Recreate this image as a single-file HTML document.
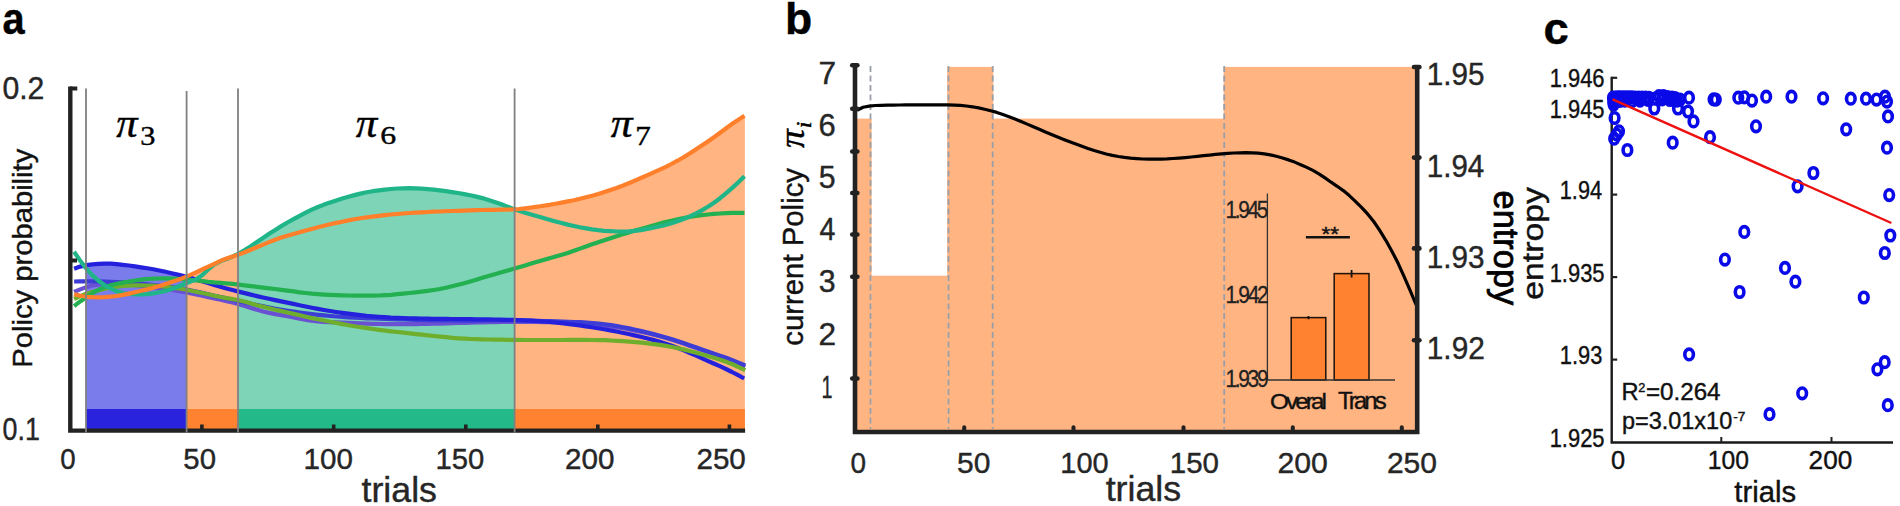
<!DOCTYPE html>
<html lang="en">
<head>
<meta charset="utf-8">
<title>Policy probability, current policy and entropy across trials</title>
<style>
html,body{margin:0;padding:0;background:#fff;}
body{width:1900px;height:506px;overflow:hidden;font-family:"Liberation Sans",Arial,sans-serif;}
svg{display:block;}
text{white-space:pre;}
</style>
</head>
<body>
<svg width="1900" height="506" viewBox="0 0 1900 506">
<rect width="1900" height="506" fill="#fff"/>
<g id="panel-a">
<path d="M86.0,265.2 L90.2,264.6 L94.4,264.2 L98.6,263.8 L102.8,263.7 L107.0,263.7 L111.2,263.8 L115.3,264.1 L119.5,264.4 L123.7,264.9 L127.9,265.4 L132.1,266.0 L136.3,266.6 L140.5,267.2 L144.7,267.9 L148.9,268.6 L153.1,269.3 L157.3,270.1 L161.4,271.0 L165.6,271.9 L169.8,272.8 L174.0,273.8 L178.2,274.7 L182.4,275.7 L186.6,276.8 L186.6,429.5 L86.0,429.5 Z" fill="#7b7ceb"/>
<path d="M186.6,276.4 L191.3,274.4 L195.9,272.4 L200.6,270.2 L205.3,268.0 L210.0,265.9 L214.6,263.6 L219.3,261.4 L224.0,259.5 L228.7,257.7 L233.3,256.2 L238.0,254.7 L238.0,429.5 L186.6,429.5 Z" fill="#ffb482"/>
<path d="M238.0,253.9 L242.1,251.7 L246.1,249.2 L250.2,246.6 L254.3,243.8 L258.3,241.1 L262.4,238.3 L266.5,235.6 L270.5,232.9 L274.6,230.3 L278.7,227.8 L282.7,225.3 L286.8,222.9 L290.9,220.6 L294.9,218.3 L299.0,216.1 L303.1,214.0 L307.1,212.0 L311.2,210.0 L315.3,208.2 L319.4,206.4 L323.4,204.8 L327.5,203.3 L331.6,201.9 L335.6,200.6 L339.7,199.3 L343.8,198.1 L347.8,196.9 L351.9,195.8 L356.0,194.7 L360.0,193.8 L364.1,192.9 L368.2,192.1 L372.2,191.3 L376.3,190.7 L380.4,190.1 L384.4,189.6 L388.5,189.2 L392.6,188.9 L396.6,188.6 L400.7,188.4 L404.8,188.3 L408.8,188.2 L412.9,188.2 L417.0,188.4 L421.0,188.6 L425.1,188.9 L429.2,189.2 L433.2,189.6 L437.3,190.1 L441.4,190.6 L445.5,191.2 L449.5,191.7 L453.6,192.3 L457.7,193.0 L461.7,193.6 L465.8,194.4 L469.9,195.2 L473.9,196.1 L478.0,197.0 L482.1,198.0 L486.1,199.2 L490.2,200.4 L494.3,201.8 L498.3,203.3 L502.4,204.8 L506.5,206.3 L510.5,207.8 L514.6,209.3 L514.6,429.5 L238.0,429.5 Z" fill="#7dd4b6"/>
<path d="M514.6,209.3 L518.7,209.0 L522.8,208.6 L526.9,208.1 L531.1,207.6 L535.2,207.0 L539.3,206.4 L543.4,205.7 L547.5,205.1 L551.6,204.4 L555.7,203.7 L559.8,202.9 L564.0,202.2 L568.1,201.4 L572.2,200.5 L576.3,199.6 L580.4,198.7 L584.5,197.7 L588.6,196.7 L592.7,195.6 L596.9,194.4 L601.0,193.2 L605.1,191.9 L609.2,190.5 L613.3,189.1 L617.4,187.6 L621.5,186.1 L625.6,184.4 L629.8,182.8 L633.9,181.0 L638.0,179.3 L642.1,177.5 L646.2,175.7 L650.3,173.9 L654.4,172.0 L658.5,170.2 L662.6,168.3 L666.8,166.3 L670.9,164.3 L675.0,162.1 L679.1,159.8 L683.2,157.4 L687.3,154.8 L691.4,152.3 L695.5,149.7 L699.7,147.0 L703.8,144.3 L707.9,141.5 L712.0,138.6 L716.1,135.7 L720.2,132.7 L724.3,129.6 L728.4,126.6 L732.6,123.7 L736.7,120.9 L740.8,118.2 L744.9,115.8 L744.9,429.5 L514.6,429.5 Z" fill="#ffb482"/>
<rect x="86.0" y="409.0" width="100.6" height="20.5" fill="#2923de"/>
<rect x="186.6" y="409.0" width="51.4" height="20.5" fill="#ff8230"/>
<rect x="238.0" y="409.0" width="276.6" height="20.5" fill="#24b989"/>
<rect x="514.6" y="409.0" width="230.3" height="20.5" fill="#ff8230"/>
<path d="M74.1,292.0 L80.2,289.4 L86.3,287.1 L92.4,285.4 L98.5,284.4 L104.6,283.8 L110.7,283.7 L116.8,283.8 L122.9,284.2 L129.0,284.6 L135.1,285.1 L141.2,285.8 L147.3,286.5 L153.4,287.4 L159.5,288.2 L165.6,289.1 L171.7,290.0 L177.8,291.0 L183.9,292.0 L190.0,293.2 L196.1,294.5 L202.2,295.8 L208.3,297.2 L214.4,298.5 L220.5,299.8 L226.6,301.1 L232.7,302.5 L238.8,304.2 L244.9,306.0 L251.0,308.0 L257.1,309.8 L263.2,311.5 L269.3,312.9 L275.4,314.1 L281.5,315.1 L287.6,316.2 L293.7,317.4 L299.8,318.7 L305.9,319.8 L312.0,320.7 L318.1,321.4 L324.2,321.8 L330.3,322.2 L336.4,322.4 L342.5,322.7 L348.6,322.9 L354.7,323.1 L360.8,323.4 L366.9,323.6 L373.0,323.8 L379.1,323.9 L385.2,324.1 L391.3,324.1 L397.4,324.2 L403.5,324.2 L409.6,324.1 L415.8,324.1 L421.9,324.0 L428.0,323.8 L434.1,323.7 L440.2,323.6 L446.3,323.4 L452.4,323.2 L458.5,323.0 L464.6,322.9 L470.7,322.7 L476.8,322.5 L482.9,322.4 L489.0,322.2 L495.1,322.1 L501.2,321.9 L507.3,321.9 L513.4,321.8 L519.5,321.8 L525.6,321.8 L531.7,321.9 L537.8,321.9 L543.9,322.1 L550.0,322.2 L556.1,322.4 L562.2,322.6 L568.3,322.8 L574.4,323.1 L580.5,323.4 L586.6,323.8 L592.7,324.3 L598.8,324.9 L604.9,325.6 L611.0,326.4 L617.1,327.3 L623.2,328.3 L629.3,329.4 L635.4,330.6 L641.5,331.9 L647.6,333.3 L653.7,334.8 L659.8,336.3 L665.9,338.0 L672.0,339.8 L678.1,341.7 L684.2,343.7 L690.3,345.9 L696.4,348.1 L702.5,350.3 L708.6,352.5 L714.7,354.6 L720.8,356.8 L726.9,359.1 L733.0,361.5 L739.1,364.1 L745.2,366.8" fill="none" stroke="#6a50d2" stroke-width="4.2" stroke-linejoin="round"/>
<path d="M74.1,281.5 L80.2,281.4 L86.3,281.3 L92.4,281.3 L98.5,281.4 L104.6,281.5 L110.7,281.8 L116.8,282.0 L122.9,282.4 L129.0,282.8 L135.1,283.2 L141.2,283.8 L147.3,284.4 L153.4,285.0 L159.5,285.7 L165.6,286.4 L171.7,287.2 L177.8,288.0 L183.9,289.0 L190.0,290.2 L196.1,291.5 L202.2,292.9 L208.3,294.3 L214.4,295.7 L220.5,297.1 L226.6,298.4 L232.7,299.8 L238.8,301.1 L244.9,302.4 L251.0,303.8 L257.1,305.1 L263.2,306.3 L269.3,307.5 L275.4,308.7 L281.5,309.8 L287.6,310.8 L293.7,311.7 L299.8,312.6 L305.9,313.4 L312.0,314.1 L318.1,314.8 L324.2,315.4 L330.3,316.0 L336.4,316.5 L342.5,317.0 L348.6,317.4 L354.7,317.7 L360.8,318.0 L366.9,318.3 L373.0,318.5 L379.1,318.7 L385.2,318.9 L391.3,319.1 L397.4,319.3 L403.5,319.5 L409.6,319.7 L415.8,319.8 L421.9,320.0 L428.0,320.2 L434.1,320.3 L440.2,320.4 L446.3,320.5 L452.4,320.5 L458.5,320.6 L464.6,320.6 L470.7,320.6 L476.8,320.6 L482.9,320.5 L489.0,320.5 L495.1,320.4 L501.2,320.4 L507.3,320.4 L513.4,320.4 L519.5,320.5 L525.6,320.6 L531.7,320.7 L537.8,320.8 L543.9,321.0 L550.0,321.2 L556.1,321.4 L562.2,321.6 L568.3,321.8 L574.4,322.0 L580.5,322.2 L586.6,322.6 L592.7,323.0 L598.8,323.6 L604.9,324.3 L611.0,325.1 L617.1,326.1 L623.2,327.2 L629.3,328.4 L635.4,329.7 L641.5,331.1 L647.6,332.5 L653.7,334.1 L659.8,335.7 L665.9,337.4 L672.0,339.3 L678.1,341.2 L684.2,343.2 L690.3,345.4 L696.4,347.5 L702.5,349.7 L708.6,351.8 L714.7,353.9 L720.8,355.9 L726.9,358.1 L733.0,360.4 L739.1,362.9 L745.2,365.5" fill="none" stroke="#3d3dd6" stroke-width="4.2" stroke-linejoin="round"/>
<path d="M74.1,268.7 L80.2,266.6 L86.3,265.1 L92.4,264.3 L98.5,263.8 L104.6,263.6 L110.7,263.7 L116.7,264.1 L122.8,264.8 L128.9,265.5 L135.0,266.4 L141.1,267.3 L147.2,268.3 L153.3,269.3 L159.4,270.5 L165.5,271.8 L171.6,273.2 L177.7,274.6 L183.8,276.0 L189.8,277.6 L195.9,279.4 L202.0,281.2 L208.1,283.1 L214.2,284.9 L220.3,286.7 L226.4,288.4 L232.5,290.0 L238.6,291.6 L244.7,293.1 L250.8,294.6 L256.9,296.1 L262.9,297.5 L269.0,298.8 L275.1,300.1 L281.2,301.4 L287.3,302.6 L293.4,303.9 L299.5,305.2 L305.6,306.5 L311.7,307.7 L317.8,308.9 L323.9,310.0 L330.0,311.0 L336.0,312.0 L342.1,312.9 L348.2,313.7 L354.3,314.4 L360.4,315.1 L366.5,315.8 L372.6,316.3 L378.7,316.8 L384.8,317.2 L390.9,317.6 L397.0,317.8 L403.1,318.1 L409.1,318.3 L415.2,318.4 L421.3,318.5 L427.4,318.7 L433.5,318.8 L439.6,318.9 L445.7,318.9 L451.8,319.0 L457.9,319.1 L464.0,319.2 L470.1,319.2 L476.2,319.3 L482.3,319.4 L488.3,319.4 L494.4,319.5 L500.5,319.6 L506.6,319.8 L512.7,319.9 L518.8,320.2 L524.9,320.4 L531.0,320.7 L537.1,321.1 L543.2,321.5 L549.3,322.0 L555.4,322.5 L561.4,323.2 L567.5,323.8 L573.6,324.6 L579.7,325.4 L585.8,326.3 L591.9,327.3 L598.0,328.3 L604.1,329.3 L610.2,330.4 L616.3,331.5 L622.4,332.7 L628.5,334.0 L634.5,335.4 L640.6,336.8 L646.7,338.3 L652.8,339.9 L658.9,341.6 L665.0,343.5 L671.1,345.5 L677.2,347.7 L683.3,350.1 L689.4,352.7 L695.5,355.3 L701.6,358.1 L707.6,360.8 L713.7,363.5 L719.8,366.2 L725.9,369.0 L732.0,372.0 L738.1,375.2 L744.2,378.5" fill="none" stroke="#2420dc" stroke-width="4.2" stroke-linejoin="round"/>
<path d="M74.1,299.0 L80.2,296.2 L86.3,293.8 L92.4,292.1 L98.5,290.4 L104.6,288.8 L110.7,287.6 L116.8,286.6 L122.9,286.0 L129.0,285.6 L135.1,285.4 L141.2,285.4 L147.3,285.5 L153.4,285.7 L159.5,286.1 L165.6,286.7 L171.7,287.5 L177.8,288.3 L183.9,289.3 L190.0,290.5 L196.1,291.7 L202.2,293.0 L208.3,294.3 L214.4,295.7 L220.5,297.0 L226.6,298.1 L232.7,299.1 L238.8,300.3 L244.9,301.8 L251.0,303.4 L257.1,305.2 L263.2,306.8 L269.3,308.3 L275.4,309.8 L281.5,311.1 L287.6,312.5 L293.7,313.9 L299.8,315.3 L305.9,316.7 L312.0,318.1 L318.1,319.3 L324.2,320.5 L330.3,321.7 L336.4,322.9 L342.5,324.1 L348.6,325.2 L354.7,326.3 L360.8,327.3 L366.9,328.2 L373.0,329.0 L379.1,329.8 L385.2,330.6 L391.3,331.3 L397.4,332.0 L403.5,332.7 L409.6,333.4 L415.8,334.1 L421.9,334.7 L428.0,335.4 L434.1,336.0 L440.2,336.6 L446.3,337.2 L452.4,337.8 L458.5,338.3 L464.6,338.7 L470.7,339.0 L476.8,339.2 L482.9,339.4 L489.0,339.5 L495.1,339.7 L501.2,339.7 L507.3,339.8 L513.4,339.9 L519.5,339.9 L525.6,340.0 L531.7,340.0 L537.8,340.0 L543.9,340.0 L550.0,340.0 L556.1,340.0 L562.2,340.0 L568.3,339.9 L574.4,339.9 L580.5,339.9 L586.6,339.9 L592.7,340.0 L598.8,340.1 L604.9,340.2 L611.0,340.5 L617.1,340.8 L623.2,341.2 L629.3,341.6 L635.4,342.1 L641.5,342.7 L647.6,343.3 L653.7,344.1 L659.8,344.9 L665.9,345.9 L672.0,347.0 L678.1,348.2 L684.2,349.6 L690.3,351.2 L696.4,352.8 L702.5,354.5 L708.6,356.3 L714.7,358.1 L720.8,360.0 L726.9,362.1 L733.0,364.5 L739.1,367.3 L745.2,370.1" fill="none" stroke="#6fae2c" stroke-width="4.2" stroke-linejoin="round"/>
<path d="M74.1,306.1 L80.2,301.4 L86.3,297.3 L92.4,293.2 L98.5,289.8 L104.6,287.2 L110.7,285.3 L116.8,283.8 L122.9,282.6 L129.0,281.5 L135.0,280.5 L141.1,279.7 L147.2,279.0 L153.3,278.7 L159.4,278.5 L165.5,278.4 L171.6,278.6 L177.7,278.9 L183.8,279.4 L189.9,279.9 L196.0,280.4 L202.1,281.0 L208.2,281.8 L214.3,282.4 L220.4,282.8 L226.5,283.3 L232.6,283.9 L238.7,284.6 L244.7,285.4 L250.8,286.1 L256.9,286.8 L263.0,287.6 L269.1,288.3 L275.2,289.0 L281.3,289.8 L287.4,290.6 L293.5,291.4 L299.6,292.3 L305.7,293.0 L311.8,293.7 L317.9,294.2 L324.0,294.6 L330.1,294.9 L336.2,295.1 L342.3,295.3 L348.4,295.5 L354.4,295.6 L360.5,295.6 L366.6,295.7 L372.7,295.6 L378.8,295.5 L384.9,295.2 L391.0,294.8 L397.1,294.2 L403.2,293.6 L409.3,293.0 L415.4,292.4 L421.5,291.7 L427.6,290.9 L433.7,290.0 L439.8,289.0 L445.9,287.7 L452.0,286.3 L458.1,284.8 L464.2,283.2 L470.2,281.5 L476.3,279.7 L482.4,277.8 L488.5,276.0 L494.6,274.2 L500.7,272.5 L506.8,270.8 L512.9,269.1 L519.0,267.3 L525.1,265.5 L531.2,263.6 L537.3,261.8 L543.4,260.0 L549.5,258.3 L555.6,256.6 L561.7,254.8 L567.8,252.9 L573.9,250.8 L579.9,248.6 L586.0,246.4 L592.1,244.3 L598.2,242.2 L604.3,240.2 L610.4,238.2 L616.5,236.2 L622.6,234.3 L628.7,232.4 L634.8,230.6 L640.9,228.9 L647.0,227.2 L653.1,225.5 L659.2,223.8 L665.3,222.1 L671.4,220.7 L677.5,219.3 L683.6,218.1 L689.6,217.0 L695.7,216.0 L701.8,215.1 L707.9,214.5 L714.0,213.9 L720.1,213.5 L726.2,213.1 L732.3,212.9 L738.4,212.8 L744.5,212.9" fill="none" stroke="#23b050" stroke-width="4.2" stroke-linejoin="round"/>
<path d="M74.1,251.8 L80.2,260.8 L86.3,268.6 L92.4,275.4 L98.5,280.7 L104.6,285.3 L110.7,288.7 L116.8,291.4 L122.9,293.0 L129.0,293.9 L135.0,294.4 L141.1,294.5 L147.2,294.1 L153.3,293.4 L159.4,292.3 L165.5,290.9 L171.6,289.0 L177.7,286.8 L183.8,284.2 L189.9,281.8 L196.0,279.4 L202.1,275.3 L208.2,269.5 L214.3,264.4 L220.4,261.3 L226.5,259.0 L232.6,256.5 L238.7,253.6 L244.7,250.1 L250.8,246.2 L256.9,242.0 L263.0,237.9 L269.1,233.8 L275.2,229.9 L281.3,226.1 L287.4,222.5 L293.5,219.1 L299.6,215.8 L305.7,212.7 L311.8,209.7 L317.9,207.0 L324.0,204.6 L330.1,202.4 L336.2,200.4 L342.3,198.5 L348.4,196.7 L354.4,195.1 L360.5,193.6 L366.6,192.3 L372.7,191.2 L378.8,190.3 L384.9,189.6 L391.0,189.0 L397.1,188.5 L403.2,188.3 L409.3,188.2 L415.4,188.3 L421.5,188.6 L427.6,189.1 L433.7,189.7 L439.8,190.4 L445.9,191.2 L452.0,192.1 L458.1,193.0 L464.2,194.1 L470.2,195.2 L476.3,196.6 L482.4,198.1 L488.5,199.9 L494.6,201.9 L500.7,204.1 L506.8,206.4 L512.9,208.7 L519.0,210.8 L525.1,212.7 L531.2,214.4 L537.3,216.2 L543.4,217.9 L549.5,219.7 L555.6,221.4 L561.7,223.0 L567.8,224.6 L573.9,226.0 L579.9,227.3 L586.0,228.4 L592.1,229.4 L598.2,230.2 L604.3,230.8 L610.4,231.2 L616.5,231.5 L622.6,231.6 L628.7,231.4 L634.8,230.9 L640.9,230.1 L647.0,229.0 L653.1,227.8 L659.2,226.5 L665.3,225.0 L671.4,223.3 L677.5,221.3 L683.6,219.0 L689.6,216.5 L695.7,213.6 L701.8,210.4 L707.9,206.8 L714.0,202.7 L720.1,198.2 L726.2,193.2 L732.3,187.9 L738.4,182.2 L744.5,176.3" fill="none" stroke="#1fb588" stroke-width="4.2" stroke-linejoin="round"/>
<path d="M74.1,294.1 L80.2,295.7 L86.3,296.8 L92.4,297.2 L98.5,297.4 L104.6,297.2 L110.7,296.7 L116.8,296.0 L122.9,294.9 L129.0,293.6 L135.0,292.2 L141.1,290.8 L147.2,289.4 L153.3,287.8 L159.4,286.0 L165.5,284.1 L171.6,282.1 L177.7,280.0 L183.8,277.6 L189.9,275.1 L196.0,272.3 L202.1,269.5 L208.2,266.7 L214.3,263.8 L220.4,260.9 L226.5,258.5 L232.6,256.4 L238.7,254.5 L244.7,252.3 L250.8,249.8 L256.9,247.2 L263.0,244.6 L269.1,242.1 L275.2,239.7 L281.3,237.6 L287.4,235.7 L293.5,234.0 L299.6,232.3 L305.7,230.6 L311.8,228.9 L317.9,227.3 L324.0,225.7 L330.1,224.3 L336.2,222.9 L342.3,221.7 L348.4,220.4 L354.4,219.3 L360.5,218.3 L366.6,217.4 L372.7,216.6 L378.8,215.8 L384.9,215.2 L391.0,214.5 L397.1,214.0 L403.2,213.5 L409.3,213.0 L415.4,212.7 L421.5,212.3 L427.6,212.0 L433.7,211.7 L439.8,211.5 L445.9,211.2 L452.0,211.0 L458.1,210.8 L464.2,210.6 L470.2,210.4 L476.3,210.2 L482.4,210.0 L488.5,209.9 L494.6,209.8 L500.7,209.7 L506.8,209.6 L512.9,209.4 L519.0,209.0 L525.1,208.3 L531.2,207.5 L537.3,206.7 L543.4,205.7 L549.5,204.8 L555.6,203.7 L561.7,202.6 L567.8,201.4 L573.9,200.2 L579.9,198.8 L586.0,197.3 L592.1,195.7 L598.2,194.0 L604.3,192.1 L610.4,190.1 L616.5,188.0 L622.6,185.7 L628.7,183.2 L634.8,180.6 L640.9,178.0 L647.0,175.3 L653.1,172.6 L659.2,169.9 L665.3,167.1 L671.4,164.0 L677.5,160.7 L683.6,157.2 L689.6,153.4 L695.7,149.6 L701.8,145.6 L707.9,141.5 L714.0,137.2 L720.1,132.7 L726.2,128.2 L732.3,123.8 L738.4,119.7 L744.5,115.8" fill="none" stroke="#ff7f2a" stroke-width="4.2" stroke-linejoin="round"/>
<path d="M70.3,86.4 V430.6 H745.1" fill="none" stroke="#222" stroke-width="4.4"/>
<path d="M70,88.5 H77.3 M72,260.5 H77" fill="none" stroke="#222" stroke-width="4"/>
<line x1="201.9" y1="424.5" x2="201.9" y2="430" stroke="#222" stroke-width="3.6"/>
<line x1="333.7" y1="424.5" x2="333.7" y2="430" stroke="#222" stroke-width="3.6"/>
<line x1="465.8" y1="424.5" x2="465.8" y2="430" stroke="#222" stroke-width="3.6"/>
<line x1="597.8" y1="424.5" x2="597.8" y2="430" stroke="#222" stroke-width="3.6"/>
<line x1="729.4" y1="424.5" x2="729.4" y2="430" stroke="#222" stroke-width="3.6"/>
<line x1="86.0" y1="88.5" x2="86.0" y2="432.6" stroke="#808080" stroke-width="1.8"/>
<line x1="186.6" y1="91" x2="186.6" y2="432.6" stroke="#808080" stroke-width="1.8"/>
<line x1="238.0" y1="88.5" x2="238.0" y2="432.6" stroke="#808080" stroke-width="1.8"/>
<line x1="514.6" y1="88.5" x2="514.6" y2="432.6" stroke="#808080" stroke-width="1.8"/>
<text transform="translate(2.61,33.96) scale(0.9011,1)" font-size="44.18" font-family="Liberation Sans, Arial, sans-serif" font-weight="bold" fill="#000" stroke="#000" stroke-width="0.4">a</text>
<text transform="translate(2.39,99.49) scale(0.9846,1)" font-size="30.70" font-family="Liberation Sans, Arial, sans-serif" fill="#262626" stroke="#262626" stroke-width="0.4">0.2</text>
<text transform="translate(2.53,440.29) scale(0.8735,1)" font-size="30.70" font-family="Liberation Sans, Arial, sans-serif" fill="#262626" stroke="#262626" stroke-width="0.4">0.1</text>
<text transform="translate(31.76,367.63) rotate(-90) scale(1.0491,1)" font-size="27.81" font-family="Liberation Sans, Arial, sans-serif" fill="#111" stroke="#111" stroke-width="0.4">Policy probability</text>
<text transform="translate(60.19,469.41) scale(0.9550,1)" font-size="29.01" font-family="Liberation Sans, Arial, sans-serif" fill="#262626" stroke="#262626" stroke-width="0.4">0</text>
<text transform="translate(183.33,469.41) scale(1.0123,1)" font-size="29.01" font-family="Liberation Sans, Arial, sans-serif" fill="#262626" stroke="#262626" stroke-width="0.4">50</text>
<text transform="translate(303.58,469.41) scale(1.0196,1)" font-size="29.01" font-family="Liberation Sans, Arial, sans-serif" fill="#262626" stroke="#262626" stroke-width="0.4">100</text>
<text transform="translate(435.51,469.41) scale(1.0085,1)" font-size="29.01" font-family="Liberation Sans, Arial, sans-serif" fill="#262626" stroke="#262626" stroke-width="0.4">150</text>
<text transform="translate(565.02,469.41) scale(1.0209,1)" font-size="29.01" font-family="Liberation Sans, Arial, sans-serif" fill="#262626" stroke="#262626" stroke-width="0.4">200</text>
<text transform="translate(696.42,469.41) scale(1.0209,1)" font-size="29.01" font-family="Liberation Sans, Arial, sans-serif" fill="#262626" stroke="#262626" stroke-width="0.4">250</text>
<text transform="translate(361.46,501.65) scale(1.0272,1)" font-size="34.83" font-family="Liberation Sans, Arial, sans-serif" fill="#262626" stroke="#262626" stroke-width="0.4">trials</text>
<text transform="translate(116.19,136.99) scale(1.0350,1)" font-size="41.06" font-family="Liberation Serif, serif" font-style="italic" fill="#000" stroke="#000" stroke-width="0.4">π</text>
<text transform="translate(140.33,144.72) scale(1.0937,1)" font-size="27.76" font-family="Liberation Serif, serif" fill="#000" stroke="#000" stroke-width="0.4">3</text>
<text transform="translate(355.79,137.39) scale(1.0336,1)" font-size="41.49" font-family="Liberation Serif, serif" font-style="italic" fill="#000" stroke="#000" stroke-width="0.4">π</text>
<text transform="translate(380.23,144.34) scale(1.2268,1)" font-size="25.97" font-family="Liberation Serif, serif" fill="#000" stroke="#000" stroke-width="0.4">6</text>
<text transform="translate(610.68,136.89) scale(1.0639,1)" font-size="40.85" font-family="Liberation Serif, serif" font-style="italic" fill="#000" stroke="#000" stroke-width="0.4">π</text>
<text transform="translate(635.18,145.00) scale(1.1711,1)" font-size="26.56" font-family="Liberation Serif, serif" fill="#000" stroke="#000" stroke-width="0.4">7</text>
</g>
<g id="panel-b">
<rect x="855.0" y="118.6" width="16.6" height="313.4" fill="#ffb482"/>
<rect x="871.3" y="275.7" width="76.2" height="156.3" fill="#ffb482"/>
<rect x="947.2" y="66.9" width="46.1" height="365.1" fill="#ffb482"/>
<rect x="993.0" y="118.6" width="230.9" height="313.4" fill="#ffb482"/>
<rect x="1223.6" y="66.9" width="193.4" height="365.1" fill="#ffb482"/>
<line x1="870.5" y1="66" x2="870.5" y2="429" stroke="#9a9ea6" stroke-width="1.8" stroke-dasharray="6,3.5"/>
<line x1="948.5" y1="66" x2="948.5" y2="429" stroke="#9a9ea6" stroke-width="1.8" stroke-dasharray="6,3.5"/>
<line x1="992.7" y1="66" x2="992.7" y2="429" stroke="#9a9ea6" stroke-width="1.8" stroke-dasharray="6,3.5"/>
<line x1="1224.2" y1="66" x2="1224.2" y2="429" stroke="#9a9ea6" stroke-width="1.8" stroke-dasharray="6,3.5"/>
<rect x="1291.2" y="317.6" width="34.6" height="62.4" fill="#ff8230" stroke="#1c130a" stroke-width="1.5"/>
<rect x="1334.2" y="273.6" width="34.8" height="106.4" fill="#ff8230" stroke="#1c130a" stroke-width="1.5"/>
<path d="M1267.4,193.5 V380 H1395" fill="none" stroke="#333" stroke-width="1.3"/>
<path d="M1308.5,316 V319.2 M1351.6,270 V277.4" stroke="#111" stroke-width="1.8" fill="none"/>
<line x1="1305.9" y1="237.2" x2="1349.9" y2="237.2" stroke="#111" stroke-width="2.6"/>
<text transform="translate(1321.56,240.60) scale(1.1267,1)" font-size="20.00" font-family="Liberation Sans, Arial, sans-serif" fill="#111" stroke="#111" stroke-width="0.4">**</text>
<text transform="translate(1225.43,217.57) scale(0.8928,1)" font-size="23.38" font-family="Liberation Sans, Arial, sans-serif" fill="#222" letter-spacing="-2.57" stroke="#222" stroke-width="0.3">1.945</text>
<text transform="translate(1225.43,303.17) scale(0.8974,1)" font-size="23.38" font-family="Liberation Sans, Arial, sans-serif" fill="#222" letter-spacing="-2.57" stroke="#222" stroke-width="0.3">1.942</text>
<text transform="translate(1225.43,387.36) scale(0.8845,1)" font-size="23.66" font-family="Liberation Sans, Arial, sans-serif" fill="#222" letter-spacing="-2.60" stroke="#222" stroke-width="0.3">1.939</text>
<text transform="translate(1270.11,408.77) scale(1.0737,1)" font-size="22.59" font-family="Liberation Sans, Arial, sans-serif" fill="#111" letter-spacing="-2.71" stroke="#111" stroke-width="0.4">Overal</text>
<text transform="translate(1338.02,408.76) scale(1.0083,1)" font-size="23.71" font-family="Liberation Sans, Arial, sans-serif" fill="#111" letter-spacing="-2.85" stroke="#111" stroke-width="0.4">Trans</text>
<path d="M857.0,110.2 L863.1,107.2 L869.2,106.1 L875.2,105.5 L881.3,105.3 L887.4,105.2 L893.5,105.1 L899.5,105.0 L905.6,104.9 L911.7,104.9 L917.8,104.8 L923.9,104.8 L929.9,104.8 L936.0,104.8 L942.1,104.8 L948.2,104.9 L954.3,105.1 L960.3,105.4 L966.4,106.0 L972.5,106.8 L978.6,107.9 L984.6,109.2 L990.7,110.7 L996.8,112.4 L1002.9,114.5 L1009.0,116.7 L1015.0,119.0 L1021.1,121.5 L1027.2,124.1 L1033.3,126.7 L1039.3,129.3 L1045.4,132.0 L1051.5,134.5 L1057.6,137.0 L1063.7,139.4 L1069.7,141.8 L1075.8,144.1 L1081.9,146.3 L1088.0,148.5 L1094.1,150.5 L1100.1,152.3 L1106.2,154.0 L1112.3,155.4 L1118.4,156.5 L1124.4,157.4 L1130.5,158.1 L1136.6,158.6 L1142.7,159.0 L1148.8,159.2 L1154.8,159.2 L1160.9,159.1 L1167.0,158.9 L1173.1,158.5 L1179.1,158.1 L1185.2,157.6 L1191.3,157.0 L1197.4,156.4 L1203.5,155.7 L1209.5,155.1 L1215.6,154.4 L1221.7,153.8 L1227.8,153.3 L1233.9,153.0 L1239.9,152.8 L1246.0,152.7 L1252.1,152.8 L1258.2,153.2 L1264.2,153.9 L1270.3,154.9 L1276.4,156.3 L1282.5,158.0 L1288.6,159.9 L1294.6,162.1 L1300.7,164.7 L1306.8,167.4 L1312.9,170.4 L1318.9,173.8 L1325.0,177.9 L1331.1,182.2 L1337.2,186.3 L1343.3,190.6 L1349.3,195.6 L1355.4,201.3 L1361.5,207.3 L1367.6,213.9 L1373.7,221.5 L1379.7,230.4 L1385.8,240.3 L1391.9,251.2 L1398.0,263.1 L1404.0,276.3 L1410.1,290.4 L1416.2,305.0" fill="none" stroke="#000" stroke-width="3.2" stroke-linejoin="round"/>
<path d="M855,65.5 V432 H1417.2 V66.5" fill="none" stroke="#222" stroke-width="4.6" stroke-linejoin="miter"/>
<line x1="852.2" y1="65.3" x2="857.4" y2="65.3" stroke="#222" stroke-width="4.5" stroke-linecap="round"/>
<line x1="852.2" y1="108.7" x2="857.4" y2="108.7" stroke="#222" stroke-width="4.5" stroke-linecap="round"/>
<line x1="852.2" y1="151.6" x2="857.4" y2="151.6" stroke="#222" stroke-width="4.5" stroke-linecap="round"/>
<line x1="852.2" y1="193.0" x2="857.4" y2="193.0" stroke="#222" stroke-width="4.5" stroke-linecap="round"/>
<line x1="852.2" y1="234.6" x2="857.4" y2="234.6" stroke="#222" stroke-width="4.5" stroke-linecap="round"/>
<line x1="852.2" y1="276.7" x2="857.4" y2="276.7" stroke="#222" stroke-width="4.5" stroke-linecap="round"/>
<line x1="852.2" y1="378.6" x2="857.4" y2="378.6" stroke="#222" stroke-width="4.5" stroke-linecap="round"/>
<line x1="1414" y1="67.0" x2="1419.4" y2="67.0" stroke="#222" stroke-width="4.6" stroke-linecap="round"/>
<line x1="1414" y1="157.6" x2="1419.4" y2="157.6" stroke="#222" stroke-width="4.6" stroke-linecap="round"/>
<line x1="1414" y1="248.4" x2="1419.4" y2="248.4" stroke="#222" stroke-width="4.6" stroke-linecap="round"/>
<line x1="1414" y1="340.2" x2="1419.4" y2="340.2" stroke="#222" stroke-width="4.6" stroke-linecap="round"/>
<line x1="964.2" y1="427.3" x2="964.2" y2="431" stroke="#222" stroke-width="4" stroke-linecap="round"/>
<line x1="1073.5" y1="427.3" x2="1073.5" y2="431" stroke="#222" stroke-width="4" stroke-linecap="round"/>
<line x1="1183.5" y1="427.3" x2="1183.5" y2="431" stroke="#222" stroke-width="4" stroke-linecap="round"/>
<line x1="1292.8" y1="427.3" x2="1292.8" y2="431" stroke="#222" stroke-width="4" stroke-linecap="round"/>
<line x1="1401.8" y1="427.3" x2="1401.8" y2="431" stroke="#222" stroke-width="4" stroke-linecap="round"/>
<text transform="translate(784.90,33.96) scale(1.0045,1)" font-size="44.35" font-family="Liberation Sans, Arial, sans-serif" font-weight="bold" fill="#000" stroke="#000" stroke-width="0.4">b</text>
<text transform="translate(818.42,83.80) scale(1.0017,1)" font-size="31.59" font-family="Liberation Sans, Arial, sans-serif" fill="#262626" stroke="#262626" stroke-width="0.4">7</text>
<text transform="translate(818.45,135.79) scale(1.0086,1)" font-size="30.70" font-family="Liberation Sans, Arial, sans-serif" fill="#262626" stroke="#262626" stroke-width="0.4">6</text>
<text transform="translate(818.79,187.59) scale(0.9734,1)" font-size="31.14" font-family="Liberation Sans, Arial, sans-serif" fill="#262626" stroke="#262626" stroke-width="0.4">5</text>
<text transform="translate(819.43,240.30) scale(0.9025,1)" font-size="31.59" font-family="Liberation Sans, Arial, sans-serif" fill="#262626" stroke="#262626" stroke-width="0.4">4</text>
<text transform="translate(818.79,292.39) scale(0.9873,1)" font-size="30.70" font-family="Liberation Sans, Arial, sans-serif" fill="#262626" stroke="#262626" stroke-width="0.4">3</text>
<text transform="translate(818.42,345.20) scale(1.0162,1)" font-size="31.14" font-family="Liberation Sans, Arial, sans-serif" fill="#262626" stroke="#262626" stroke-width="0.4">2</text>
<text transform="translate(821.52,397.60) scale(0.6258,1)" font-size="31.59" font-family="Liberation Sans, Arial, sans-serif" fill="#262626" stroke="#262626" stroke-width="0.4">1</text>
<text transform="translate(803.22,345.77) rotate(-90) scale(0.9980,1)" font-size="29.41" font-family="Liberation Sans, Arial, sans-serif" fill="#111" stroke="#111" stroke-width="0.4">current Policy</text>
<text transform="translate(803.95,147.89) rotate(-90) scale(1.0617,1)" font-size="35.32" font-family="Liberation Serif, serif" font-style="italic" fill="#000" stroke="#000" stroke-width="0.4">π</text>
<text transform="translate(811.40,128.41) rotate(-90) scale(1.1918,1)" font-size="21.52" font-family="Liberation Serif, serif" font-style="italic" fill="#000" stroke="#000" stroke-width="0.4">i</text>
<text transform="translate(850.48,472.51) scale(0.9484,1)" font-size="29.44" font-family="Liberation Sans, Arial, sans-serif" fill="#262626" stroke="#262626" stroke-width="0.4">0</text>
<text transform="translate(957.00,472.51) scale(1.0208,1)" font-size="29.44" font-family="Liberation Sans, Arial, sans-serif" fill="#262626" stroke="#262626" stroke-width="0.4">50</text>
<text transform="translate(1060.33,472.51) scale(0.9831,1)" font-size="29.44" font-family="Liberation Sans, Arial, sans-serif" fill="#262626" stroke="#262626" stroke-width="0.4">100</text>
<text transform="translate(1169.79,472.51) scale(1.0028,1)" font-size="29.44" font-family="Liberation Sans, Arial, sans-serif" fill="#262626" stroke="#262626" stroke-width="0.4">150</text>
<text transform="translate(1277.49,472.51) scale(1.0256,1)" font-size="29.44" font-family="Liberation Sans, Arial, sans-serif" fill="#262626" stroke="#262626" stroke-width="0.4">200</text>
<text transform="translate(1386.90,472.51) scale(1.0191,1)" font-size="29.44" font-family="Liberation Sans, Arial, sans-serif" fill="#262626" stroke="#262626" stroke-width="0.4">250</text>
<text transform="translate(1105.66,501.25) scale(1.0192,1)" font-size="35.10" font-family="Liberation Sans, Arial, sans-serif" fill="#262626" stroke="#262626" stroke-width="0.4">trials</text>
<text transform="translate(1426.77,84.69) scale(0.9576,1)" font-size="30.99" font-family="Liberation Sans, Arial, sans-serif" fill="#262626" stroke="#262626" stroke-width="0.4">1.95</text>
<text transform="translate(1426.79,176.69) scale(0.9524,1)" font-size="30.99" font-family="Liberation Sans, Arial, sans-serif" fill="#262626" stroke="#262626" stroke-width="0.4">1.94</text>
<text transform="translate(1426.77,267.89) scale(0.9576,1)" font-size="30.99" font-family="Liberation Sans, Arial, sans-serif" fill="#262626" stroke="#262626" stroke-width="0.4">1.93</text>
<text transform="translate(1426.76,358.69) scale(0.9629,1)" font-size="30.99" font-family="Liberation Sans, Arial, sans-serif" fill="#262626" stroke="#262626" stroke-width="0.4">1.92</text>
<text transform="translate(1494.25,190.52) rotate(90) scale(0.9824,1)" font-size="35.00" font-family="Liberation Sans, Arial, sans-serif" fill="#000" stroke="#000" stroke-width="0.8">entropy</text>
</g>
<g id="panel-c">
<path d="M1611.7,76.7 V442.5 H1893" fill="none" stroke="#1a1a1a" stroke-width="2.4"/>
<line x1="1611.5" y1="77.8" x2="1617.2" y2="77.8" stroke="#222" stroke-width="2.2"/>
<line x1="1611.5" y1="194.6" x2="1617.2" y2="194.6" stroke="#222" stroke-width="2.2"/>
<line x1="1611.5" y1="277.1" x2="1617.2" y2="277.1" stroke="#222" stroke-width="2.2"/>
<line x1="1611.5" y1="359.6" x2="1617.2" y2="359.6" stroke="#222" stroke-width="2.2"/>
<line x1="1721.3" y1="437" x2="1721.3" y2="442" stroke="#222" stroke-width="2"/>
<line x1="1831.5" y1="437" x2="1831.5" y2="442" stroke="#222" stroke-width="2"/>
<ellipse cx="1613" cy="97.7" rx="4.3" ry="5.3" fill="none" stroke="#0a0ae8" stroke-width="3.6"/>
<ellipse cx="1615" cy="97.5" rx="4.3" ry="5.3" fill="none" stroke="#0a0ae8" stroke-width="3.6"/>
<ellipse cx="1617.5" cy="97.4" rx="4.3" ry="5.3" fill="none" stroke="#0a0ae8" stroke-width="3.6"/>
<ellipse cx="1620" cy="97.4" rx="4.3" ry="5.3" fill="none" stroke="#0a0ae8" stroke-width="3.6"/>
<ellipse cx="1623" cy="97.3" rx="4.3" ry="5.3" fill="none" stroke="#0a0ae8" stroke-width="3.6"/>
<ellipse cx="1626" cy="97.3" rx="4.3" ry="5.3" fill="none" stroke="#0a0ae8" stroke-width="3.6"/>
<ellipse cx="1629" cy="97.4" rx="4.3" ry="5.3" fill="none" stroke="#0a0ae8" stroke-width="3.6"/>
<ellipse cx="1632" cy="97.4" rx="4.3" ry="5.3" fill="none" stroke="#0a0ae8" stroke-width="3.6"/>
<ellipse cx="1635" cy="97.5" rx="4.3" ry="5.3" fill="none" stroke="#0a0ae8" stroke-width="3.6"/>
<ellipse cx="1638.5" cy="97.5" rx="4.3" ry="5.3" fill="none" stroke="#0a0ae8" stroke-width="3.6"/>
<ellipse cx="1642" cy="97.5" rx="4.3" ry="5.3" fill="none" stroke="#0a0ae8" stroke-width="3.6"/>
<ellipse cx="1645.5" cy="97.6" rx="4.3" ry="5.3" fill="none" stroke="#0a0ae8" stroke-width="3.6"/>
<ellipse cx="1649" cy="97.8" rx="4.3" ry="5.3" fill="none" stroke="#0a0ae8" stroke-width="3.6"/>
<ellipse cx="1613.2" cy="101.5" rx="4.3" ry="5.3" fill="none" stroke="#0a0ae8" stroke-width="3.6"/>
<ellipse cx="1613.6" cy="104.5" rx="4.3" ry="5.3" fill="none" stroke="#0a0ae8" stroke-width="3.6"/>
<ellipse cx="1616" cy="100.5" rx="4.3" ry="5.3" fill="none" stroke="#0a0ae8" stroke-width="3.6"/>
<ellipse cx="1620" cy="100.8" rx="4.3" ry="5.3" fill="none" stroke="#0a0ae8" stroke-width="3.6"/>
<ellipse cx="1625" cy="100.6" rx="4.3" ry="5.3" fill="none" stroke="#0a0ae8" stroke-width="3.6"/>
<ellipse cx="1632" cy="101" rx="4.3" ry="5.3" fill="none" stroke="#0a0ae8" stroke-width="3.6"/>
<ellipse cx="1640" cy="100.6" rx="4.3" ry="5.3" fill="none" stroke="#0a0ae8" stroke-width="3.6"/>
<ellipse cx="1648" cy="99.8" rx="4.3" ry="5.3" fill="none" stroke="#0a0ae8" stroke-width="3.6"/>
<ellipse cx="1655" cy="98.6" rx="4.3" ry="5.3" fill="none" stroke="#0a0ae8" stroke-width="3.6"/>
<ellipse cx="1662" cy="99.4" rx="4.3" ry="5.3" fill="none" stroke="#0a0ae8" stroke-width="3.6"/>
<ellipse cx="1670" cy="100" rx="4.3" ry="5.3" fill="none" stroke="#0a0ae8" stroke-width="3.6"/>
<ellipse cx="1677" cy="100.6" rx="4.3" ry="5.3" fill="none" stroke="#0a0ae8" stroke-width="3.6"/>
<ellipse cx="1616.8" cy="134.6" rx="4.3" ry="5.3" fill="none" stroke="#0a0ae8" stroke-width="3.6"/>
<ellipse cx="1659" cy="96.2" rx="4.3" ry="5.3" fill="none" stroke="#0a0ae8" stroke-width="3.6"/>
<ellipse cx="1663.5" cy="96.2" rx="4.3" ry="5.3" fill="none" stroke="#0a0ae8" stroke-width="3.6"/>
<ellipse cx="1667.5" cy="97" rx="4.3" ry="5.3" fill="none" stroke="#0a0ae8" stroke-width="3.6"/>
<ellipse cx="1672" cy="97.6" rx="4.3" ry="5.3" fill="none" stroke="#0a0ae8" stroke-width="3.6"/>
<ellipse cx="1675" cy="98" rx="4.3" ry="5.3" fill="none" stroke="#0a0ae8" stroke-width="3.6"/>
<ellipse cx="1680" cy="99.5" rx="4.3" ry="5.3" fill="none" stroke="#0a0ae8" stroke-width="3.6"/>
<ellipse cx="1689" cy="97.7" rx="4.3" ry="5.3" fill="none" stroke="#0a0ae8" stroke-width="3.6"/>
<ellipse cx="1654.3" cy="108.5" rx="4.3" ry="5.3" fill="none" stroke="#0a0ae8" stroke-width="3.6"/>
<ellipse cx="1678" cy="108.5" rx="4.3" ry="5.3" fill="none" stroke="#0a0ae8" stroke-width="3.6"/>
<ellipse cx="1688" cy="111.5" rx="4.3" ry="5.3" fill="none" stroke="#0a0ae8" stroke-width="3.6"/>
<ellipse cx="1693.5" cy="121.4" rx="4.3" ry="5.3" fill="none" stroke="#0a0ae8" stroke-width="3.6"/>
<ellipse cx="1713.6" cy="99.4" rx="4.3" ry="5.3" fill="none" stroke="#0a0ae8" stroke-width="3.6"/>
<ellipse cx="1715.8" cy="99.6" rx="4.3" ry="5.3" fill="none" stroke="#0a0ae8" stroke-width="3.6"/>
<ellipse cx="1738.3" cy="97.7" rx="4.3" ry="5.3" fill="none" stroke="#0a0ae8" stroke-width="3.6"/>
<ellipse cx="1744.3" cy="97.3" rx="4.3" ry="5.3" fill="none" stroke="#0a0ae8" stroke-width="3.6"/>
<ellipse cx="1614.6" cy="118" rx="4.3" ry="5.3" fill="none" stroke="#0a0ae8" stroke-width="3.6"/>
<ellipse cx="1619" cy="131.3" rx="4.3" ry="5.3" fill="none" stroke="#0a0ae8" stroke-width="3.6"/>
<ellipse cx="1614.2" cy="138.7" rx="4.3" ry="5.3" fill="none" stroke="#0a0ae8" stroke-width="3.6"/>
<ellipse cx="1627.4" cy="150" rx="4.3" ry="5.3" fill="none" stroke="#0a0ae8" stroke-width="3.6"/>
<ellipse cx="1672.7" cy="142.7" rx="4.3" ry="5.3" fill="none" stroke="#0a0ae8" stroke-width="3.6"/>
<ellipse cx="1710" cy="137.2" rx="4.3" ry="5.3" fill="none" stroke="#0a0ae8" stroke-width="3.6"/>
<ellipse cx="1752" cy="100.6" rx="4.3" ry="5.3" fill="none" stroke="#0a0ae8" stroke-width="3.6"/>
<ellipse cx="1766.2" cy="96.7" rx="4.3" ry="5.3" fill="none" stroke="#0a0ae8" stroke-width="3.6"/>
<ellipse cx="1791.5" cy="96.7" rx="4.3" ry="5.3" fill="none" stroke="#0a0ae8" stroke-width="3.6"/>
<ellipse cx="1823.1" cy="98.3" rx="4.3" ry="5.3" fill="none" stroke="#0a0ae8" stroke-width="3.6"/>
<ellipse cx="1850.8" cy="98.7" rx="4.3" ry="5.3" fill="none" stroke="#0a0ae8" stroke-width="3.6"/>
<ellipse cx="1866" cy="98.7" rx="4.3" ry="5.3" fill="none" stroke="#0a0ae8" stroke-width="3.6"/>
<ellipse cx="1876.5" cy="99.6" rx="4.3" ry="5.3" fill="none" stroke="#0a0ae8" stroke-width="3.6"/>
<ellipse cx="1885" cy="96.7" rx="4.3" ry="5.3" fill="none" stroke="#0a0ae8" stroke-width="3.6"/>
<ellipse cx="1887" cy="101.6" rx="4.3" ry="5.3" fill="none" stroke="#0a0ae8" stroke-width="3.6"/>
<ellipse cx="1888" cy="116.4" rx="4.3" ry="5.3" fill="none" stroke="#0a0ae8" stroke-width="3.6"/>
<ellipse cx="1756" cy="126.3" rx="4.3" ry="5.3" fill="none" stroke="#0a0ae8" stroke-width="3.6"/>
<ellipse cx="1846.2" cy="129.3" rx="4.3" ry="5.3" fill="none" stroke="#0a0ae8" stroke-width="3.6"/>
<ellipse cx="1887" cy="147.7" rx="4.3" ry="5.3" fill="none" stroke="#0a0ae8" stroke-width="3.6"/>
<ellipse cx="1813.4" cy="173" rx="4.3" ry="5.3" fill="none" stroke="#0a0ae8" stroke-width="3.6"/>
<ellipse cx="1797.6" cy="186.3" rx="4.3" ry="5.3" fill="none" stroke="#0a0ae8" stroke-width="3.6"/>
<ellipse cx="1889.2" cy="195.1" rx="4.3" ry="5.3" fill="none" stroke="#0a0ae8" stroke-width="3.6"/>
<ellipse cx="1744.3" cy="231.9" rx="4.3" ry="5.3" fill="none" stroke="#0a0ae8" stroke-width="3.6"/>
<ellipse cx="1890.3" cy="235.5" rx="4.3" ry="5.3" fill="none" stroke="#0a0ae8" stroke-width="3.6"/>
<ellipse cx="1884.8" cy="253" rx="4.3" ry="5.3" fill="none" stroke="#0a0ae8" stroke-width="3.6"/>
<ellipse cx="1724.9" cy="259.6" rx="4.3" ry="5.3" fill="none" stroke="#0a0ae8" stroke-width="3.6"/>
<ellipse cx="1785" cy="267.9" rx="4.3" ry="5.3" fill="none" stroke="#0a0ae8" stroke-width="3.6"/>
<ellipse cx="1795.4" cy="281.7" rx="4.3" ry="5.3" fill="none" stroke="#0a0ae8" stroke-width="3.6"/>
<ellipse cx="1739.6" cy="292" rx="4.3" ry="5.3" fill="none" stroke="#0a0ae8" stroke-width="3.6"/>
<ellipse cx="1863.8" cy="297.5" rx="4.3" ry="5.3" fill="none" stroke="#0a0ae8" stroke-width="3.6"/>
<ellipse cx="1689.1" cy="354.4" rx="4.3" ry="5.3" fill="none" stroke="#0a0ae8" stroke-width="3.6"/>
<ellipse cx="1884.7" cy="362.2" rx="4.3" ry="5.3" fill="none" stroke="#0a0ae8" stroke-width="3.6"/>
<ellipse cx="1877.4" cy="369.3" rx="4.3" ry="5.3" fill="none" stroke="#0a0ae8" stroke-width="3.6"/>
<ellipse cx="1802.2" cy="393.3" rx="4.3" ry="5.3" fill="none" stroke="#0a0ae8" stroke-width="3.6"/>
<ellipse cx="1887.8" cy="405.2" rx="4.3" ry="5.3" fill="none" stroke="#0a0ae8" stroke-width="3.6"/>
<ellipse cx="1769.5" cy="414.2" rx="4.3" ry="5.3" fill="none" stroke="#0a0ae8" stroke-width="3.6"/>
<line x1="1612.6" y1="99.4" x2="1891.4" y2="223" stroke="#ee1111" stroke-width="2.4"/>
<text transform="translate(1543.59,43.67) scale(1.0439,1)" font-size="43.45" font-family="Liberation Sans, Arial, sans-serif" font-weight="bold" fill="#000" stroke="#000" stroke-width="0.4">c</text>
<text transform="translate(1549.66,86.54) scale(0.8282,1)" font-size="26.48" font-family="Liberation Sans, Arial, sans-serif" fill="#111" stroke="#111" stroke-width="0.4">1.946</text>
<text transform="translate(1549.66,117.64) scale(0.8326,1)" font-size="26.34" font-family="Liberation Sans, Arial, sans-serif" fill="#111" stroke="#111" stroke-width="0.4">1.945</text>
<text transform="translate(1559.77,199.34) scale(0.8254,1)" font-size="26.34" font-family="Liberation Sans, Arial, sans-serif" fill="#111" stroke="#111" stroke-width="0.4">1.94</text>
<text transform="translate(1549.66,281.94) scale(0.8282,1)" font-size="26.48" font-family="Liberation Sans, Arial, sans-serif" fill="#111" stroke="#111" stroke-width="0.4">1.935</text>
<text transform="translate(1559.76,364.44) scale(0.8255,1)" font-size="26.48" font-family="Liberation Sans, Arial, sans-serif" fill="#111" stroke="#111" stroke-width="0.4">1.93</text>
<text transform="translate(1549.66,447.34) scale(0.8282,1)" font-size="26.48" font-family="Liberation Sans, Arial, sans-serif" fill="#111" stroke="#111" stroke-width="0.4">1.925</text>
<text transform="translate(1610.88,469.14) scale(0.9755,1)" font-size="26.06" font-family="Liberation Sans, Arial, sans-serif" fill="#111" stroke="#111" stroke-width="0.4">0</text>
<text transform="translate(1707.75,469.14) scale(0.9453,1)" font-size="26.06" font-family="Liberation Sans, Arial, sans-serif" fill="#111" stroke="#111" stroke-width="0.4">100</text>
<text transform="translate(1808.59,469.14) scale(1.0032,1)" font-size="26.06" font-family="Liberation Sans, Arial, sans-serif" fill="#111" stroke="#111" stroke-width="0.4">200</text>
<text transform="translate(1734.36,502.41) scale(1.0132,1)" font-size="28.84" font-family="Liberation Sans, Arial, sans-serif" fill="#111" stroke="#111" stroke-width="0.4">trials</text>
<text transform="translate(1543.30,299.85) rotate(-90) scale(1.1270,1)" font-size="30.00" font-family="Liberation Sans, Arial, sans-serif" fill="#111" stroke="#111" stroke-width="0.4">entropy</text>
<text transform="translate(1621.60,400.10) scale(1.0031,1)" font-size="23.62" font-family="Liberation Sans, Arial, sans-serif" fill="#111" stroke="#111" stroke-width="0.4">R</text>
<text transform="translate(1638.36,392.20) scale(0.9699,1)" font-size="13.14" font-family="Liberation Sans, Arial, sans-serif" fill="#111" stroke="#111" stroke-width="0.4">2</text>
<text transform="translate(1645.99,400.17) scale(1.0333,1)" font-size="23.38" font-family="Liberation Sans, Arial, sans-serif" fill="#111" stroke="#111" stroke-width="0.4">=0.264</text>
<text transform="translate(1621.98,428.51) scale(1.0069,1)" font-size="23.30" font-family="Liberation Sans, Arial, sans-serif" fill="#111" stroke="#111" stroke-width="0.4">p=3.01x10</text>
<text transform="translate(1733.28,420.60) scale(1.0750,1)" font-size="12.75" font-family="Liberation Sans, Arial, sans-serif" fill="#111" stroke="#111" stroke-width="0.4">-7</text>
</g>
</svg>
</body>
</html>
